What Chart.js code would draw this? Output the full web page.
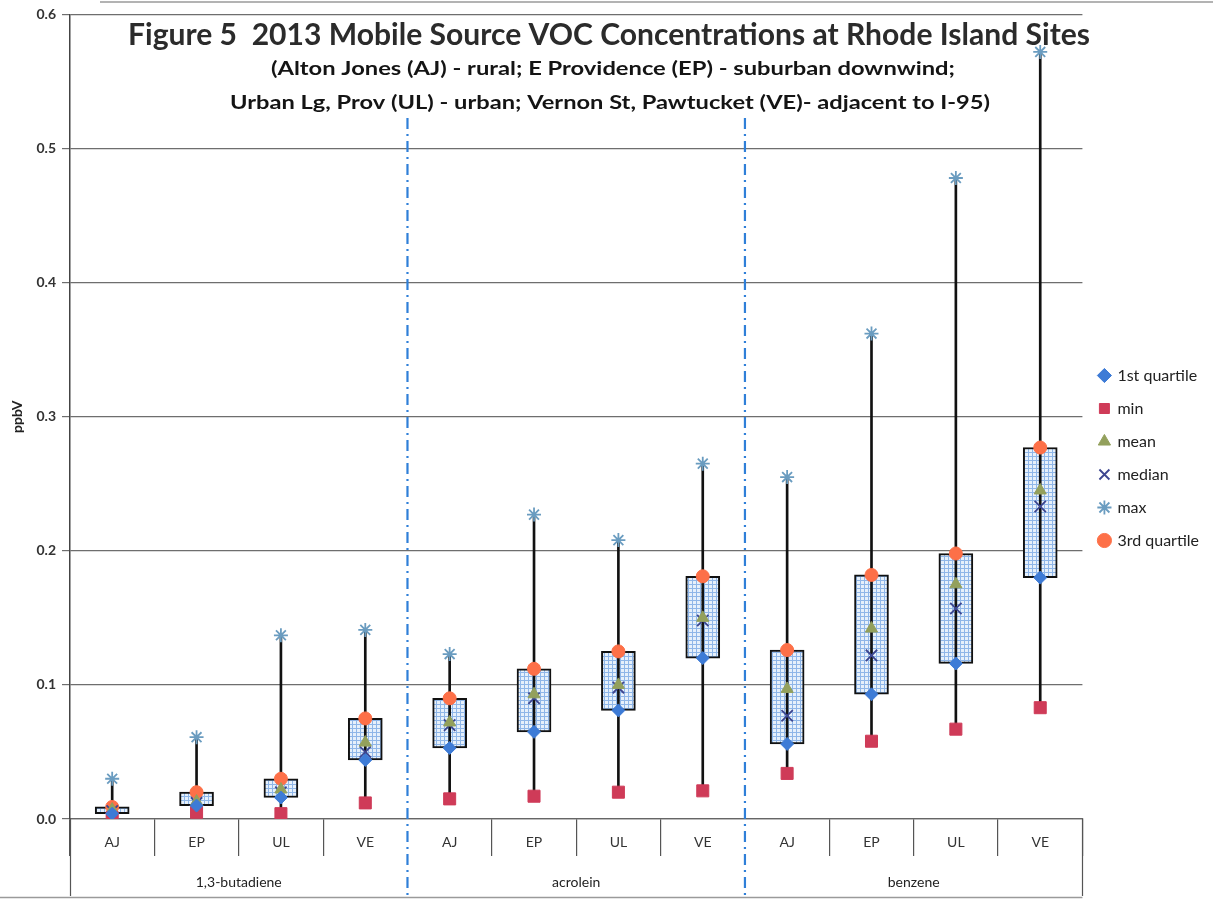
<!DOCTYPE html>
<html>
<head>
<meta charset="utf-8">
<script src="https://cdn.jsdelivr.net/npm/chart.js@4.4.1/dist/chart.umd.min.js"></script>
<style>
  html, body { margin: 0; padding: 0; background: #ffffff; }
  #wrap { width: 1213px; height: 902px; }
</style>
</head>
<body>
<div id="wrap"><canvas id="c" width="1213" height="902"></canvas></div>
<script>
// Monitoring sites (repeated for each compound) and compound groups
const sites = ['AJ', 'EP', 'UL', 'VE', 'AJ', 'EP', 'UL', 'VE', 'AJ', 'EP', 'UL', 'VE'];
const compounds = ['1,3-butadiene', 'acrolein', 'benzene'];

// 2013 statistics, ppbV (butadiene AJ..VE, acrolein AJ..VE, benzene AJ..VE)
const minVals    = [0.001, 0.005, 0.004, 0.012, 0.015, 0.017, 0.020, 0.021, 0.034, 0.058, 0.067, 0.083];
const q1Vals     = [0.004, 0.010, 0.016, 0.044, 0.053, 0.065, 0.081, 0.120, 0.056, 0.093, 0.116, 0.180];
const medianVals = [0.006, 0.012, 0.020, 0.050, 0.070, 0.090, 0.098, 0.148, 0.077, 0.122, 0.157, 0.233];
const meanVals   = [0.007, 0.013, 0.022, 0.057, 0.072, 0.093, 0.100, 0.150, 0.097, 0.142, 0.175, 0.245];
const q3Vals     = [0.009, 0.020, 0.030, 0.075, 0.090, 0.112, 0.125, 0.181, 0.126, 0.182, 0.198, 0.277];
const maxVals    = [0.030, 0.061, 0.137, 0.141, 0.123, 0.227, 0.208, 0.265, 0.255, 0.362, 0.478, 0.572];

// y-axis ticks
const yTicks = [0, 0.1, 0.2, 0.3, 0.4, 0.5, 0.6];

const FONT = 'Lato, "Open Sans", sans-serif';
const canvas = document.getElementById('c');
const ctx2d = canvas.getContext('2d');

// light blue dotted-grid fill used for the interquartile boxes
function gridPattern() {
  const p = document.createElement('canvas');
  p.width = 4; p.height = 4;
  const g = p.getContext('2d');
  g.fillStyle = '#e6f0fb';
  g.fillRect(0, 0, 4, 4);
  g.fillStyle = '#8fb6e8';
  g.fillRect(0, 0, 4, 1);
  g.fillRect(0, 0, 1, 4);
  return ctx2d.createPattern(p, 'repeat');
}

// title block, group separators and frame lines
const decorations = {
  id: 'decorations',
  afterDraw(chart) {
    const ctx = chart.ctx;
    const xs = chart.scales.x;
    const area = chart.chartArea;
    const step = xs.getPixelForValue(1) - xs.getPixelForValue(0);
    const boundary = i => xs.getPixelForValue(i) - step / 2;

    ctx.save();
    // outer edges of the category axis
    ctx.strokeStyle = '#555';
    ctx.lineWidth = 1.2;
    [0, sites.length].forEach(i => {
      const x = Math.round(boundary(i)) + 0.5;
      ctx.beginPath();
      ctx.moveTo(x, area.bottom);
      ctx.lineTo(x, 896);
      ctx.stroke();
    });
    // frame lines
    ctx.strokeStyle = '#9a9a9a';
    ctx.lineWidth = 1.5;
    ctx.beginPath();
    ctx.moveTo(0, 897.5); ctx.lineTo(boundary(sites.length), 897.5);
    ctx.moveTo(100, 2); ctx.lineTo(1213, 2);
    ctx.stroke();

    // blue dash-dot lines between compound groups
    ctx.strokeStyle = '#2f7fd8';
    ctx.lineWidth = 2.2;
    ctx.setLineDash([11, 5, 2, 5]);
    [4, 8].forEach(i => {
      const x = boundary(i);
      ctx.beginPath();
      ctx.moveTo(x, 118);
      ctx.lineTo(x, 895);
      ctx.stroke();
    });
    ctx.setLineDash([]);

    // title lines, condensed to their set widths
    const line = (text, size, cx, cy, width, color) => {
      ctx.font = 'bold ' + size + 'px ' + FONT;
      const w = ctx.measureText(text).width;
      ctx.save();
      ctx.translate(cx, cy);
      ctx.scale(width / w, 1);
      ctx.fillStyle = color;
      ctx.textAlign = 'center';
      ctx.textBaseline = 'middle';
      ctx.fillText(text, 0, 0);
      ctx.restore();
    };
    line('Figure 5  2013 Mobile Source VOC Concentrations at Rhode Island Sites', 30, 609, 35, 962, '#2b2b2b');
    line('(Alton Jones (AJ) - rural; E Providence (EP) - suburban downwind;', 19.5, 613, 69, 684, '#141414');
    line('Urban Lg, Prov (UL) - urban; Vernon St, Pawtucket (VE)- adjacent to I-95)', 19.5, 610, 103, 760, '#141414');
    ctx.restore();
  }
};

const marker = (label, data, style, radius, fill, stroke, bw, order) => ({
  type: 'line',
  label,
  data,
  showLine: false,
  pointStyle: style,
  pointRadius: radius,
  backgroundColor: fill,
  borderColor: stroke,
  pointBorderWidth: bw,
  borderWidth: bw,
  order
});

new Chart(canvas, {
  data: {
    labels: sites,
    datasets: [
      marker('1st quartile', q1Vals, 'rectRot', 6.5, '#3d7bd6', '#3d7bd6', 1, 1),
      marker('min', minVals, 'rect', 8.5, '#cf3b58', '#cf3b58', 1, 2),
      marker('mean', meanVals, 'triangle', 7, '#93a05c', '#93a05c', 1, 3),
      marker('median', medianVals, 'crossRot', 8, '#3d4690', '#3d4690', 1.8, 4),
      marker('max', maxVals, 'star', 7, '#6a9cc0', '#6a9cc0', 1.8, 5),
      marker('3rd quartile', q3Vals, 'circle', 6.5, '#fd7048', '#fd7048', 1, 6),
      {
        type: 'bar',
        label: 'range',
        data: minVals.map((m, i) => [m, maxVals[i]]),
        backgroundColor: '#111111',
        barThickness: 2,
        grouped: false,
        order: 9
      },
      {
        type: 'bar',
        label: 'interquartile',
        data: q1Vals.map((q, i) => [q, q3Vals[i]]),
        backgroundColor: gridPattern(),
        borderColor: '#111111',
        borderWidth: 2,
        borderSkipped: false,
        barThickness: 34,
        grouped: false,
        order: 10
      }
    ]
  },
  options: {
    responsive: false,
    devicePixelRatio: 1,
    animation: false,
    events: [],
    layout: { padding: { top: 14, left: 0, right: 4, bottom: 0 } },
    plugins: {
      tooltip: { enabled: false },
      title: { display: false },
      legend: {
        position: 'right',
        align: 'center',
        labels: {
          usePointStyle: true,
          boxWidth: 10,
          boxHeight: 10,
          padding: 17,
          color: '#222',
          font: { family: FONT, size: 16 },
          filter: item => item.text !== 'range' && item.text !== 'interquartile'
        }
      }
    },
    scales: {
      x: {
        type: 'category',
        position: 'bottom',
        weight: 0,
        offset: true,
        grid: {
          offset: true,
          drawOnChartArea: false,
          drawTicks: true,
          tickLength: 37,
          lineWidth: 1.2,
          color: c => (c.index === 4 || c.index === 8) ? 'rgba(0,0,0,0)' : '#555'
        },
        border: { display: true, color: '#666', width: 1.2 },
        ticks: {
          autoSkip: false,
          maxRotation: 0,
          padding: -22,
          color: '#333',
          font: { family: FONT, size: 14 }
        },
        afterFit: s => { s.height = 40; }
      },
      groups: {
        type: 'category',
        labels: compounds,
        position: 'bottom',
        weight: 1,
        offset: true,
        grid: { display: false, drawTicks: false },
        border: { display: false },
        ticks: {
          padding: 15,
          color: '#222',
          font: { family: FONT, size: 14 }
        },
        afterFit: s => { s.height = 43; }
      },
      y: {
        type: 'linear',
        min: 0,
        max: 0.6,
        afterBuildTicks: s => { s.ticks = yTicks.map(v => ({ value: v })); },
        grid: {
          color: '#6e6e6e',
          lineWidth: 1.2,
          drawTicks: true,
          tickLength: 8
        },
        border: { display: true, color: '#444', width: 1.5 },
        ticks: {
          padding: 6,
          color: '#333',
          font: { family: FONT, size: 14, weight: 'bold' },
          callback: v => Number(v).toFixed(1)
        },
        title: {
          display: true,
          text: 'ppbV',
          color: '#222',
          padding: { top: 9, bottom: 0 },
          font: { family: FONT, size: 14, weight: 'bold' }
        },
        afterFit: s => { s.width = 70; }
      }
    }
  },
  plugins: [decorations]
});
</script>
</body>
</html>
